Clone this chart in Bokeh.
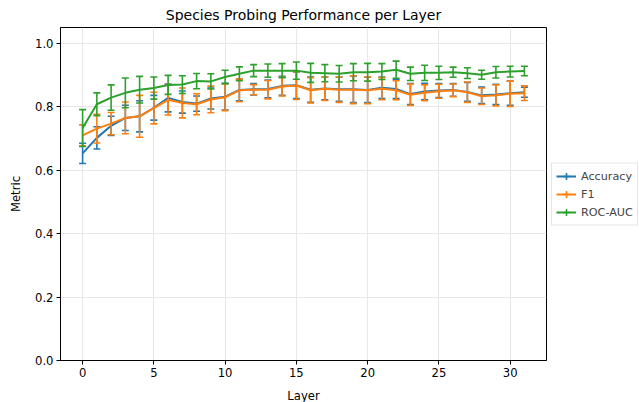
import numpy as np
from bokeh.plotting import figure
from bokeh.models import ColumnDataSource, Legend, LegendItem, FixedTicker, Range1d
from bokeh.embed import file_html
from bokeh.resources import INLINE

layers = list(range(32))
accuracy = [0.653, 0.702, 0.740, 0.765, 0.770, 0.797, 0.828, 0.815, 0.810, 0.826,
            0.832, 0.853, 0.855, 0.856, 0.866, 0.868, 0.854, 0.858, 0.855, 0.855,
            0.853, 0.860, 0.856, 0.840, 0.848, 0.851, 0.853, 0.847, 0.836, 0.839,
            0.843, 0.846]
accuracy_err = [0.032, 0.035, 0.030, 0.040, 0.049, 0.039, 0.044, 0.035, 0.024, 0.033,
                0.042, 0.034, 0.018, 0.028, 0.030, 0.042, 0.040, 0.036, 0.038, 0.042,
                0.040, 0.034, 0.030, 0.033, 0.026, 0.022, 0.020, 0.030, 0.026, 0.032,
                0.038, 0.016]
f1 = [0.710, 0.731, 0.747, 0.765, 0.770, 0.796, 0.822, 0.812, 0.808, 0.823,
      0.830, 0.852, 0.854, 0.854, 0.864, 0.867, 0.852, 0.857, 0.854, 0.854,
      0.852, 0.857, 0.852, 0.838, 0.844, 0.849, 0.852, 0.846, 0.833, 0.836,
      0.841, 0.843]
f1_err = [0.033, 0.045, 0.035, 0.050, 0.066, 0.050, 0.048, 0.047, 0.033, 0.042,
          0.042, 0.036, 0.016, 0.029, 0.030, 0.044, 0.040, 0.037, 0.040, 0.044,
          0.042, 0.035, 0.030, 0.034, 0.025, 0.022, 0.020, 0.032, 0.026, 0.033,
          0.040, 0.023]
roc_auc = [0.733, 0.808, 0.829, 0.844, 0.854, 0.859, 0.869, 0.870, 0.881, 0.880,
           0.894, 0.904, 0.914, 0.914, 0.914, 0.914, 0.907, 0.906, 0.904, 0.909,
           0.909, 0.911, 0.917, 0.904, 0.907, 0.907, 0.909, 0.906, 0.901, 0.909,
           0.911, 0.913]
roc_auc_err = [0.058, 0.036, 0.040, 0.047, 0.042, 0.035, 0.030, 0.028, 0.024, 0.024,
               0.021, 0.022, 0.019, 0.021, 0.022, 0.027, 0.030, 0.027, 0.026, 0.027,
               0.028, 0.025, 0.027, 0.021, 0.024, 0.021, 0.016, 0.017, 0.014, 0.018,
               0.017, 0.015]

series_names = ["Accuracy", "F1", "ROC-AUC"]
series_colors = ["#1f77b4", "#ff7f0e", "#2ca02c"]
x_ticks = [0, 5, 10, 15, 20, 25, 30]
y_ticks = [0.0, 0.2, 0.4, 0.6, 0.8, 1.0]

FONT = "DejaVu Sans"

p = figure(width=639, height=402, frame_width=486, frame_height=333,
           output_backend="svg", toolbar_location=None,
           title="Species Probing Performance per Layer",
           x_range=Range1d(-1.55, 32.55), y_range=Range1d(0.0, 1.05),
           min_border_left=60, min_border_right=0, min_border_top=27,
           min_border_bottom=42)
p.title.align = "center"
p.title.text_font = FONT
p.title.text_font_size = "14px"
p.title.text_font_style = "normal"
p.title.text_color = "black"
p.title.text_line_height = 0.95
p.title.standoff = 9
p.title.offset = 0

p.outline_line_color = "black"
p.outline_line_width = 1
p.background_fill_color = "white"
p.border_fill_color = "white"

for ax in (p.xaxis, p.yaxis):
    ax.axis_line_color = "black"
    ax.major_tick_line_color = "black"
    ax.major_tick_out = 4
    ax.major_tick_in = 0
    ax.minor_tick_line_color = None
    ax.major_label_text_font = FONT
    ax.major_label_text_font_size = "11.6px"
    ax.major_label_text_color = "black"
    ax.axis_label_text_font = FONT
    ax.axis_label_text_font_size = "11.6px"
    ax.axis_label_text_font_style = "normal"
    ax.axis_label_text_color = "black"
    ax.major_label_standoff = 3

p.xaxis.axis_label = "Layer"
p.yaxis.axis_label = "Metric"
p.xaxis.axis_label_standoff = 9
p.yaxis.axis_label_standoff = 9
p.xaxis.ticker = FixedTicker(ticks=x_ticks)
p.yaxis.ticker = FixedTicker(ticks=y_ticks)
p.yaxis.major_label_overrides = {v: f"{v:.1f}" for v in y_ticks}
p.xaxis.major_label_overrides = {v: str(v) for v in x_ticks}

p.grid.grid_line_color = "#e8e8e8"
p.grid.grid_line_width = 1

items = []
all_vals = [(accuracy, accuracy_err), (f1, f1_err), (roc_auc, roc_auc_err)]
for name, color, (vals, errs) in zip(series_names, series_colors, all_vals):
    vals = np.array(vals)
    errs = np.array(errs)
    src = ColumnDataSource(dict(x=layers, y=vals, lo=vals - errs, hi=vals + errs))
    line = p.line("x", "y", source=src, line_color=color, line_width=2)
    p.segment(x0="x", y0="lo", x1="x", y1="hi", source=src, line_color=color, line_width=1.6)
    p.scatter("x", "lo", source=src, marker="dash", size=7, line_color=color, line_width=1.6)
    p.scatter("x", "hi", source=src, marker="dash", size=7, line_color=color, line_width=1.6)
    # legend-only marker, placed outside the visible ranges
    dummy = ColumnDataSource(dict(x=[-100.0], y=[-100.0]))
    vbar = p.scatter("x", "y", source=dummy, marker="cross", size=12,
                     line_color=color, line_width=1.6)
    items.append(LegendItem(label=name, renderers=[line, vbar]))

legend = Legend(items=items, location="center_left")
legend.label_text_font = FONT
legend.label_text_font_size = "11.2px"
legend.label_height = 17
legend.glyph_height = 17
legend.glyph_width = 20
legend.label_standoff = 5
legend.spacing = 1
legend.padding = 4
legend.margin = 5
legend.border_line_color = "#cccccc"
legend.border_line_width = 1
legend.background_fill_alpha = 0.8
p.add_layout(legend, "right")

open("out.html", "w").write(file_html(p, INLINE))
